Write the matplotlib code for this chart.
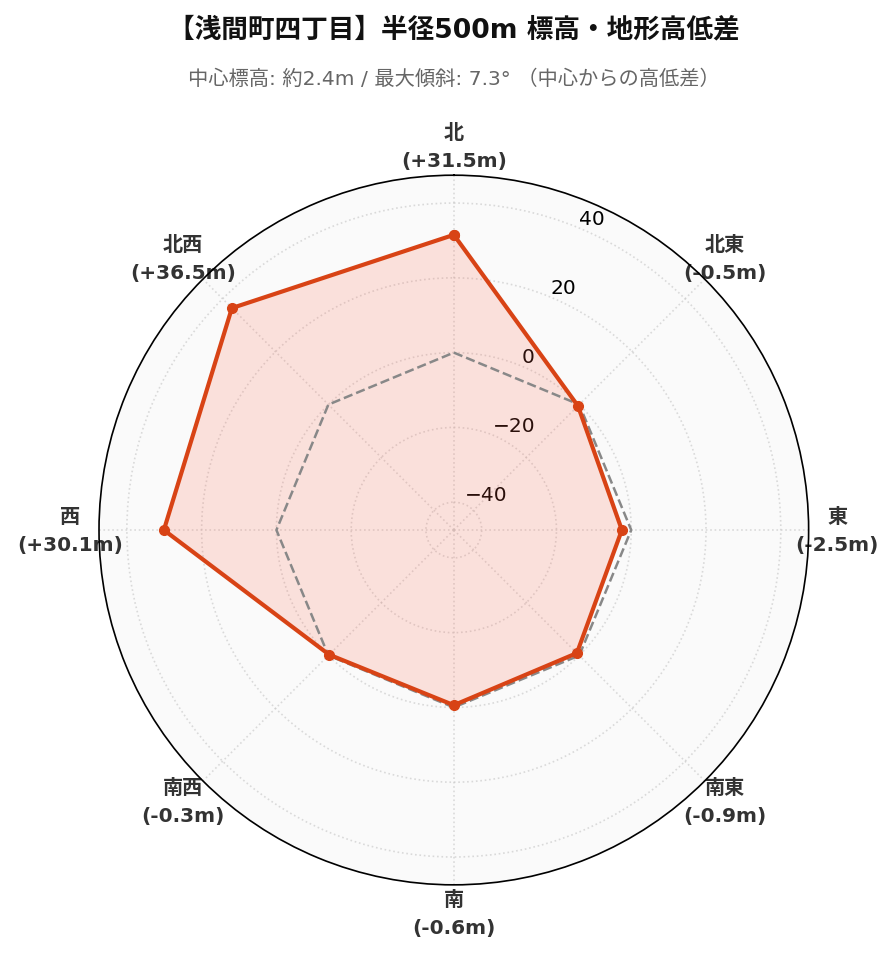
import numpy as np
import matplotlib.pyplot as plt

plt.rcParams['font.family'] = ['DejaVu Sans', 'Noto Sans CJK JP']

# data
directions = ['北', '北東', '東', '南東', '南', '南西', '西', '北西']
diffs = [31.5, -0.5, -2.5, -0.9, -0.6, -0.3, 30.1, 36.5]
title = '【浅間町四丁目】半径500m 標高・地形高低差'
subtitle = '中心標高: 約2.4m / 最大傾斜: 7.3° （中心からの高低差）'

n = len(directions)
angles = np.linspace(0, 2 * np.pi, n, endpoint=False)
ang = np.append(angles, angles[0])
vals = np.append(diffs, diffs[0])
zero = np.zeros_like(ang)

lim = max(abs(v) for v in diffs) * 1.3

fig = plt.figure(figsize=(8.96, 9.62), dpi=100)
ax = fig.add_axes([0.1105, 0.079, 0.792, 0.738], projection='polar')
ax.set_theta_zero_location('N')
ax.set_theta_direction(-1)
ax.set_facecolor('#fafafa')

col = '#D84315'
ax.fill(ang, vals, color='#FF6347', alpha=0.17, zorder=2)
ax.plot(ang, zero, '--', color='#888888', lw=1.8, zorder=3)
ax.plot(ang, vals, '-o', color=col, lw=3, ms=7, zorder=4)

ax.set_ylim(-lim, lim)
ax.set_yticks([-40, -20, 0, 20, 40])
ax.tick_params(axis='y', labelsize=14.5, labelcolor='black')
ax.set_rlabel_position(22.5)

labels = [f'{d}\n({v:+.1f}m)' for d, v in zip(directions, diffs)]
ax.set_xticks(angles)
ax.set_xticklabels(labels, fontsize=14.5, fontweight='bold', color='#333333',
                   linespacing=1.6)
ax.tick_params(axis='x', pad=10)

ax.grid(True, linestyle=':', color='#cccccc', lw=1.2)
for gl in ax.get_xgridlines() + ax.get_ygridlines():
    gl.set_zorder(5)
    gl.set_alpha(0.7)
ax.spines['polar'].set_color('black')
ax.spines['polar'].set_linewidth(1.2)

fig.text(0.507, 0.968, title, ha='center', va='center', fontsize=19.2,
         fontweight='bold', color='#111111')
fig.text(0.507, 0.918, subtitle, ha='center', va='center', fontsize=14.6,
         color='#666666')

plt.savefig('out.png', dpi=100)
